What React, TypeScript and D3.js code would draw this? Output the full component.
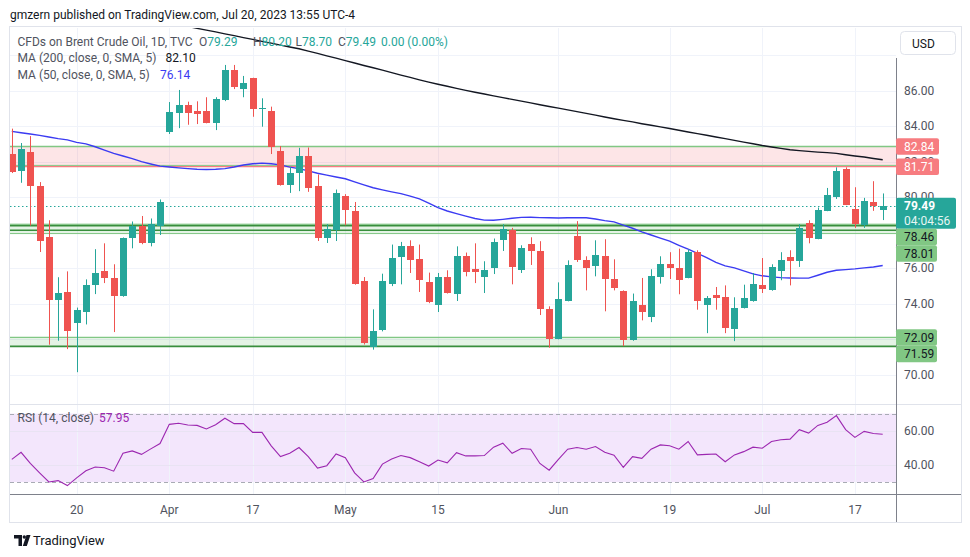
import React from "react";
import * as d3 from "d3";

// ---- data ----
const tickIndex = [7, 17, 26, 36, 46, 59, 71, 81, 91];
const tickLabels = ["20", "Apr", "17", "May", "15", "Jun", "19", "Jul", "17"];

const opens = [
  82.42, 81.46, 82.53, 80.61, 77.73, 74.19, 74.63, 72.9, 73.52, 75.04,
  75.81, 75.42, 74.44, 77.68, 78.37, 77.41, 78.37, 83.66, 84.75, 85.18,
  84.84, 84.84, 84.15, 85.46, 87.16, 86.1, 86.69, 84.96, 84.84, 82.59,
  80.67, 81.36, 82.3, 80.61, 77.69, 78.13, 80.05, 79.2, 75.25, 71.54,
  72.48, 75.08, 76.62, 77.22, 76.49, 75.19, 73.93, 75.48, 74.53, 76.66,
  75.93, 75.49, 76.0, 77.56, 78.13, 75.91, 77.34, 76.94, 73.67, 72.0,
  74.14, 77.79, 76.43, 76.1, 76.66, 75.36, 74.69, 71.92, 73.89, 73.23,
  75.49, 76.21, 76.0, 75.44, 76.89, 73.93, 74.46, 74.35, 72.56, 73.74,
  74.12, 75.02, 74.74, 75.83, 76.6, 76.4, 78.52, 77.64, 79.22, 80.01,
  81.57, 79.31, 78.43, 79.71, 79.29,
];
const highs = [
  83.85, 83.04, 83.43, 80.84, 78.69, 75.48, 75.81, 73.77, 75.36, 77.06,
  77.39, 76.21, 77.72, 78.62, 78.93, 78.79, 79.86, 85.35, 86.03, 85.37,
  85.39, 85.62, 85.62, 87.44, 87.44, 86.82, 86.72, 85.56, 85.09, 82.87,
  81.7, 82.77, 82.79, 81.27, 78.47, 80.42, 80.16, 79.72, 75.49, 73.67,
  75.68, 77.32, 77.47, 77.56, 77.32, 75.74, 75.72, 75.87, 77.22, 76.87,
  77.39, 76.38, 77.66, 78.47, 78.26, 77.28, 77.73, 77.51, 73.84, 75.19,
  76.43, 78.64, 76.66, 77.56, 77.62, 76.49, 74.74, 74.56, 75.44, 75.93,
  76.66, 76.89, 77.09, 77.06, 77.0, 74.42, 74.93, 75.02, 74.35, 75.06,
  75.72, 76.56, 76.21, 76.89, 77.0, 78.47, 78.69, 79.41, 80.51, 81.67,
  81.67, 80.55, 79.95, 80.89, 80.2,
];
const lows = [
  81.35, 80.8, 78.39, 76.9, 71.68, 71.9, 71.43, 70.13, 72.82, 74.53,
  75.15, 72.39, 74.38, 77.11, 77.34, 77.22, 77.86, 83.55, 83.88, 84.07,
  84.11, 84.15, 83.77, 85.4, 86.08, 85.62, 84.52, 83.96, 82.42, 80.64,
  80.23, 80.33, 80.29, 77.52, 77.41, 77.52, 78.41, 75.06, 71.69, 71.4,
  72.43, 74.98, 75.08, 75.72, 74.65, 74.02, 73.52, 74.56, 74.14, 75.53,
  75.15, 74.59, 75.66, 76.96, 75.08, 75.72, 76.17, 73.35, 71.51, 71.98,
  74.12, 76.34, 74.74, 75.53, 73.56, 74.74, 71.6, 71.9, 73.05, 72.95,
  75.12, 75.38, 74.52, 75.42, 73.65, 72.33, 73.65, 72.33, 71.88, 73.72,
  74.1, 74.59, 74.72, 75.31, 75.02, 76.06, 77.39, 77.62, 79.2, 79.89,
  79.54, 78.26, 78.26, 79.22, 78.7,
];
const closes = [
  81.4, 82.7, 80.61, 77.52, 74.22, 74.57, 72.44, 73.65, 75.02, 75.7,
  75.42, 74.42, 77.68, 78.37, 77.39, 78.47, 79.71, 84.79, 85.18, 84.75,
  84.69, 84.18, 85.5, 87.16, 86.21, 86.44, 84.97, 84.99, 82.79, 80.67,
  81.36, 82.3, 80.51, 77.69, 78.22, 80.2, 79.26, 75.08, 71.77, 72.43,
  75.25, 76.55, 77.22, 76.45, 75.32, 74.06, 75.48, 74.59, 76.66, 75.77,
  75.77, 75.87, 77.45, 78.18, 76.06, 77.11, 76.96, 73.69, 72.0, 74.23,
  76.15, 76.45, 76.0, 76.72, 75.38, 74.87, 71.92, 74.14, 73.5, 75.53,
  76.21, 76.0, 75.31, 76.89, 74.14, 74.29, 74.31, 72.61, 73.73, 74.29,
  75.08, 74.8, 76.04, 76.43, 76.38, 78.24, 77.69, 79.26, 80.1, 81.46,
  79.56, 78.48, 79.76, 79.49, 79.49,
];

const ma200: (number | null)[] = [
  null, null, null, null, null, null, null, null, null, null,
  null, null, null, null, null, null, null, null, null,
  89.61, 89.5, 89.4, 89.3, 89.19, 89.09, 88.98, 88.88, 88.77, 88.67,
  88.56, 88.45, 88.35, 88.22, 88.09, 87.95, 87.82, 87.68, 87.55, 87.41,
  87.28, 87.15, 87.01, 86.87, 86.74, 86.6, 86.47, 86.35, 86.24, 86.12,
  86.01, 85.9, 85.8, 85.7, 85.6, 85.5, 85.4, 85.3, 85.2, 85.1,
  85.01, 84.91, 84.81, 84.71, 84.61, 84.51, 84.41, 84.32, 84.23, 84.13,
  84.04, 83.95, 83.86, 83.76, 83.66, 83.57, 83.48, 83.38, 83.29, 83.19,
  83.09, 83.0, 82.9, 82.82, 82.74, 82.66, 82.61, 82.57, 82.53, 82.5,
  82.46, 82.38, 82.31, 82.25, 82.17, 82.1,
];
const ma50 = [
  83.7, 83.62, 83.55, 83.47, 83.38, 83.29, 83.22, 83.08, 82.99, 82.83,
  82.64, 82.46, 82.31, 82.16, 81.99, 81.86, 81.74, 81.69, 81.64, 81.6,
  81.56, 81.55, 81.56, 81.6, 81.69, 81.8, 81.87, 81.91, 81.87, 81.81,
  81.68, 81.6, 81.47, 81.34, 81.23, 81.13, 81.03, 80.85, 80.68, 80.52,
  80.4, 80.29, 80.19, 80.05, 79.89, 79.65, 79.4, 79.21, 79.06, 78.92,
  78.79, 78.7, 78.69, 78.74, 78.8, 78.85, 78.86, 78.84, 78.83, 78.82,
  78.83, 78.84, 78.83, 78.76, 78.67, 78.6, 78.42, 78.24, 78.04, 77.86,
  77.68, 77.51, 77.28, 77.06, 76.83, 76.58, 76.32, 76.12, 76.01, 75.84,
  75.67, 75.56, 75.5, 75.46, 75.44, 75.43, 75.43, 75.59, 75.76, 75.87,
  75.91, 75.95, 76.01, 76.06, 76.14,
];
const rsi = [
  43.3, 47.4, 40.9, 35.4, 30.1, 30.9, 28.0, 32.5, 36.6, 38.8,
  38.4, 36.4, 46.8, 48.2, 46.2, 49.4, 52.5, 63.7, 64.3, 63.3,
  63.1, 61.0, 63.5, 67.3, 64.1, 64.1, 59.0, 59.0, 51.2, 44.9,
  46.8, 50.2, 44.9, 38.2, 39.6, 46.4, 44.3, 35.4, 30.1, 32.1,
  40.5, 43.5, 45.5, 44.3, 41.9, 39.4, 42.9, 41.3, 47.2, 45.3,
  45.3, 45.5, 50.4, 52.7, 46.8, 49.6, 49.2, 40.9, 37.0, 43.3,
  49.2, 50.2, 49.2, 50.8, 47.4, 45.7, 38.6, 44.9, 43.9, 49.2,
  51.7, 51.2, 49.2, 53.7, 45.9, 46.2, 46.4, 41.9, 45.9, 47.8,
  50.4, 49.8, 53.7, 54.7, 55.1, 60.6, 58.6, 63.1, 64.9, 68.8,
  60.6, 56.1, 59.6, 58.4, 57.95,
];

const priceTicks = [70, 72, 74, 76, 78, 80, 82, 84, 86, 88];
const rsiTicks = [40, 60];
const rsiBand = [30, 70];

const redZone = [81.78, 82.84];
const redLine = 81.71;
const upperGreenZone = [77.94, 78.47];
const upperGreenDark = [78.39, 78.13];
const lowerGreenZone = [71.59, 72.09];
const lastPrice = 79.49;
const countdown = "04:04:56";
const axisLabels = [
  { v: 82.84, kind: "red" },
  { v: 81.71, kind: "red" },
  { v: 79.49, kind: "last" },
  { v: 78.46, kind: "green" },
  { v: 78.01, kind: "green" },
  { v: 72.09, kind: "green" },
  { v: 71.59, kind: "green" },
];

// ---- style ----
const UP = "#26a69a";
const DOWN = "#ef5350";
const GRID = "#f0f3fa";
const TEXT = "#131722";
const GRAY = "#50535e";
const BLUE = "#3b3bf2";
const PURPLE = "#9c27b0";
const LGREEN = "#81c784";
const DGREEN = "#388e3c";
const FONT = "Roboto, 'Liberation Sans', sans-serif";

export default function App() {
  const L = 10;
  const R = 896;
  const mainTop = 28;
  const mainBottom = 404;
  const rsiBottom = 494;

  const x = d3.scaleLinear().domain([0, closes.length - 1]).range([11.8, 882.7]);
  const y = d3.scaleLinear().domain([70, 86]).range([374.5, 90.5]);
  const ry = d3.scaleLinear().domain([40, 60]).range([465, 430.7]);

  const mainLine = d3
    .line<number | null>()
    .defined((d) => d != null)
    .x((_, i) => x(i))
    .y((d) => y(d as number));
  const rsiLine = d3
    .line<number>()
    .x((_, i) => x(i))
    .y((d) => ry(d));

  // price-tag collision (TradingView pushes overlapping tags down)
  const lh = 16.5;
  let prevBottom = -Infinity;
  const placed = [...axisLabels]
    .sort((a, b) => y(a.v) - y(b.v))
    .map((l) => {
      const h = l.kind === "last" ? 31 : lh;
      let top = y(l.v) - lh / 2;
      if (top < prevBottom) top = prevBottom;
      prevBottom = top + h;
      return { ...l, top, h };
    });
  const hiddenByTag = (py: number) =>
    placed.some((p) => py > p.top + 3.5 && py < p.top + p.h - 3.5);

  const fmt = d3.format(".2f");

  return (
    <div style={{ position: "absolute", left: 0, top: 0 }}>
      <svg width={970} height={557} style={{ display: "block", background: "#fff" }} fontFamily={FONT}>
        <defs>
          <clipPath id="mainClip">
            <rect x={L} y={mainTop} width={R - L} height={mainBottom - mainTop} />
          </clipPath>
          <clipPath id="rsiClip">
            <rect x={L} y={mainBottom} width={R - L} height={rsiBottom - mainBottom} />
          </clipPath>
        </defs>
        <rect width={970} height={557} fill="#fff" />

        {/* header */}
        <text x={10} y={18.5} fontSize={12} fill={TEXT}>
          gmzern published on TradingView.com, Jul 20, 2023 13:55 UTC-4
        </text>

        {/* frame */}
        <rect x={9.5} y={26.5} width={952} height={496} fill="none" stroke="#e0e3eb" />

        {/* RSI band */}
        <rect
          x={L}
          y={ry(rsiBand[1])}
          width={R - L}
          height={ry(rsiBand[0]) - ry(rsiBand[1])}
          fill="#f3e6fc"
        />

        {/* vertical grid */}
        {tickIndex.map((t, k) => (
          <line key={"vg" + k} x1={Math.round(x(t)) + 0.5} x2={Math.round(x(t)) + 0.5} y1={mainTop} y2={rsiBottom} stroke={GRID} />
        ))}
        {/* horizontal grid */}
        {priceTicks.map((t) => (
          <line key={"hg" + t} x1={L} x2={R} y1={Math.round(y(t)) + 0.5} y2={Math.round(y(t)) + 0.5} stroke={GRID} />
        ))}
        {rsiTicks.map((t) => (
          <line key={"rg" + t} x1={L} x2={R} y1={Math.round(ry(t)) + 0.5} y2={Math.round(ry(t)) + 0.5} stroke="#e9e3f3" />
        ))}
        {rsiBand.map((t) => (
          <line key={"rb" + t} x1={L} x2={R} y1={Math.round(ry(t)) + 0.5} y2={Math.round(ry(t)) + 0.5} stroke="#a8abb4" strokeDasharray="4 3" />
        ))}

        <g clipPath="url(#mainClip)">
          {/* zones */}
          <rect x={L} y={y(redZone[1])} width={R - L} height={y(redZone[0]) - y(redZone[1])} fill="rgba(242,54,69,0.13)" />
          <line x1={L} x2={R} y1={y(redZone[1])} y2={y(redZone[1])} stroke={LGREEN} strokeWidth={1.5} />
          <line x1={L} x2={R} y1={y(redZone[0])} y2={y(redZone[0])} stroke={LGREEN} strokeWidth={1} />
          <line x1={L} x2={R} y1={y(redLine)} y2={y(redLine)} stroke="#f77c80" strokeWidth={1.2} />

          <rect x={L} y={y(upperGreenZone[1])} width={R - L} height={y(upperGreenZone[0]) - y(upperGreenZone[1])} fill="rgba(76,175,80,0.15)" />
          <line x1={L} x2={R} y1={y(upperGreenZone[1])} y2={y(upperGreenZone[1])} stroke={LGREEN} strokeWidth={1} />
          <line x1={L} x2={R} y1={y(upperGreenZone[0])} y2={y(upperGreenZone[0])} stroke={LGREEN} strokeWidth={1} />
          {upperGreenDark.map((v) => (
            <line key={"ud" + v} x1={L} x2={R} y1={y(v)} y2={y(v)} stroke={DGREEN} strokeWidth={1.6} />
          ))}

          <rect x={L} y={y(lowerGreenZone[1])} width={R - L} height={y(lowerGreenZone[0]) - y(lowerGreenZone[1])} fill="rgba(76,175,80,0.15)" />
          <line x1={L} x2={R} y1={y(lowerGreenZone[1])} y2={y(lowerGreenZone[1])} stroke={LGREEN} strokeWidth={1.2} />
          <line x1={L} x2={R} y1={y(lowerGreenZone[0])} y2={y(lowerGreenZone[0])} stroke={DGREEN} strokeWidth={1.8} />

          {/* last price dotted line */}
          <line x1={L} x2={R} y1={Math.round(y(lastPrice)) + 0.5} y2={Math.round(y(lastPrice)) + 0.5} stroke={UP} strokeDasharray="1.5 2.5" />

          {/* MAs */}
          <path d={mainLine(ma200) || ""} fill="none" stroke={TEXT} strokeWidth={1.4} />
          <path d={mainLine(ma50) || ""} fill="none" stroke={BLUE} strokeWidth={1.4} />

          {/* candles */}
          {closes.map((c, i) => {
            const o = opens[i];
            const up = c >= o;
            const col = up ? UP : DOWN;
            const cx = Math.round(x(i));
            const top = Math.round(y(Math.max(o, c)));
            const bot = Math.round(y(Math.min(o, c)));
            return (
              <g key={"c" + i}>
                <line x1={cx + 0.5} x2={cx + 0.5} y1={y(highs[i])} y2={y(lows[i])} stroke={col} strokeWidth={1} />
                <rect x={cx - 3} y={top} width={7} height={Math.max(1, bot - top)} fill={col} />
              </g>
            );
          })}
        </g>

        {/* RSI line */}
        <g clipPath="url(#rsiClip)">
          <path d={rsiLine(rsi) || ""} fill="none" stroke={PURPLE} strokeWidth={1.1} />
        </g>

        {/* pane separator & axes */}
        <line x1={L} x2={961} y1={404.5} y2={404.5} stroke="#e0e3eb" />
        <line x1={L} x2={961} y1={494.5} y2={494.5} stroke="#7e818b" />
        <line x1={R + 0.5} x2={R + 0.5} y1={58} y2={522} stroke="#7e818b" />

        {/* legends */}
        <g fontSize={12}>
          <text x={17.5} y={45.5} fill={GRAY}>CFDs on Brent Crude Oil, 1D, TVC</text>
          <text x={199} y={45.5} fill={GRAY}>O<tspan fill={UP}>79.29</tspan></text>
          <text x={253} y={45.5} fill={GRAY}>H<tspan fill={UP}>80.20</tspan></text>
          <text x={295.5} y={45.5} fill={GRAY}>L<tspan fill={UP}>78.70</tspan></text>
          <text x={338} y={45.5} fill={GRAY}>C<tspan fill={UP}>79.49</tspan></text>
          <text x={381} y={45.5} fill={UP}>0.00 (0.00%)</text>
          <text x={17.5} y={62.3} fill={GRAY}>MA (200, close, 0, SMA, 5)</text>
          <text x={165.5} y={62.3} fill={TEXT}>82.10</text>
          <text x={17.5} y={79} fill={GRAY}>MA (50, close, 0, SMA, 5)</text>
          <text x={160} y={79} fill={BLUE}>76.14</text>
          <text x={17.5} y={422} fill={GRAY}>RSI (14, close)</text>
          <text x={99} y={422} fill={PURPLE}>57.95</text>
        </g>

        {/* price axis labels */}
        <g fontSize={12} fill={GRAY}>
          {priceTicks
            .filter((t) => y(t) > 70 && !hiddenByTag(y(t)))
            .map((t) => (
              <text key={"pl" + t} x={904} y={y(t)} dy="0.35em">{fmt(t)}</text>
            ))}
          {rsiTicks.map((t) => (
            <text key={"rl" + t} x={904} y={ry(t)} dy="0.35em">{fmt(t)}</text>
          ))}
        </g>

        {/* price tags */}
        {placed.map((l, k) => {
          const fill = l.kind === "red" ? "#f77c80" : l.kind === "last" ? UP : LGREEN;
          const w = l.kind === "last" ? 60 : l.kind === "red" ? 43 : 41;
          const tc = l.kind === "green" ? TEXT : "#fff";
          return (
            <g key={"tag" + k}>
              <rect x={896} y={l.top} width={w} height={l.h} rx={2} fill={fill} />
              <text x={904} y={l.top + lh / 2} dy="0.35em" fontSize={12} fill={tc} fontWeight={l.kind === "last" ? 700 : 400}>
                {fmt(l.v)}
              </text>
              {l.kind === "last" && (
                <text x={904} y={l.top + lh / 2 + 15} dy="0.35em" fontSize={12} fill="#e6f6f4">
                  {countdown}
                </text>
              )}
            </g>
          );
        })}

        {/* USD button */}
        <rect x={900.5} y={31.5} width={55} height={23} rx={4} fill="#fff" stroke="#e0e3eb" />
        <text x={912} y={47.5} fontSize={12} fill={TEXT}>USD</text>

        {/* time axis labels */}
        <g fontSize={12} fill={GRAY} textAnchor="middle">
          {tickIndex.map((t, k) => (
            <text key={"tl" + k} x={x(t)} y={513.5}>{tickLabels[k]}</text>
          ))}
        </g>

        {/* TradingView logo */}
        <g fill={TEXT}>
          <path d="M14 535 H22 V546 H18.5 V538.5 H14 Z" />
          <circle cx={24.3} cy={537} r={1.7} />
          <path d="M26.5 535 H30.5 L26.8 546 H22.8 Z" />
          <text x={33} y={545} fontSize={13}>TradingView</text>
        </g>
      </svg>
    </div>
  );
}
